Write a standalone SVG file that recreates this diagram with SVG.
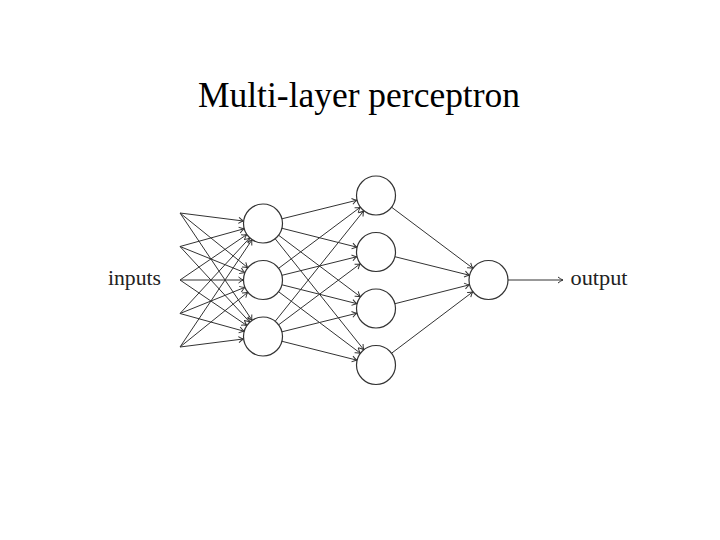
<svg xmlns="http://www.w3.org/2000/svg" width="720" height="540" viewBox="0 0 720 540">
<defs>
<style>
.title{font-family:"Liberation Serif","Times New Roman",serif;font-size:36px;fill:#000}
.lbl{font-family:"Liberation Serif","Times New Roman",serif;font-size:20px;fill:#222}
.e{stroke:#333;stroke-width:1;fill:none;marker-end:url(#arr)}
.n{fill:#fff;stroke:#333;stroke-width:1.2}
</style>
<marker id="arr" markerUnits="userSpaceOnUse" markerWidth="10" markerHeight="10" viewBox="-6 -5 7 10" refX="0" refY="0" orient="auto" overflow="visible">
<path d="M-5,-3 Q-2,-0.6 0,0 Q-2,0.6 -5,3" fill="none" stroke="#333" stroke-width="1"/>
</marker>
</defs>
<rect width="720" height="540" fill="#fff"/>
<text class="title" x="198" y="107" textLength="322" lengthAdjust="spacingAndGlyphs">Multi-layer perceptron</text>
<g id="connectors">
<line class="e" x1="180" y1="213" x2="243.65" y2="221.05"/>
<line class="e" x1="180" y1="246.5" x2="244.21" y2="228.71"/>
<line class="e" x1="180" y1="280" x2="246.88" y2="234.47"/>
<line class="e" x1="180" y1="313.5" x2="249.78" y2="237.83"/>
<line class="e" x1="180" y1="347" x2="252.12" y2="239.68"/>
<line class="e" x1="180" y1="213" x2="247.83" y2="267.75"/>
<line class="e" x1="180" y1="246.5" x2="244.92" y2="272.70"/>
<line class="e" x1="180" y1="280" x2="243.5" y2="280"/>
<line class="e" x1="180" y1="313.5" x2="244.92" y2="287.30"/>
<line class="e" x1="180" y1="347" x2="247.83" y2="292.25"/>
<line class="e" x1="180" y1="213" x2="252.12" y2="320.32"/>
<line class="e" x1="180" y1="246.5" x2="249.78" y2="322.17"/>
<line class="e" x1="180" y1="280" x2="246.88" y2="325.53"/>
<line class="e" x1="180" y1="313.5" x2="244.21" y2="331.29"/>
<line class="e" x1="180" y1="347" x2="243.65" y2="338.95"/>
<line class="e" x1="281.93" y1="218.81" x2="357.07" y2="200.19"/>
<line class="e" x1="281.91" y1="228.27" x2="357.09" y2="247.23"/>
<line class="e" x1="278.58" y1="235.22" x2="360.42" y2="296.78"/>
<line class="e" x1="275.17" y1="238.74" x2="363.83" y2="349.76"/>
<line class="e" x1="278.62" y1="268.32" x2="360.38" y2="207.18"/>
<line class="e" x1="281.93" y1="275.31" x2="357.07" y2="256.69"/>
<line class="e" x1="281.91" y1="284.77" x2="357.09" y2="303.73"/>
<line class="e" x1="278.58" y1="291.72" x2="360.42" y2="353.28"/>
<line class="e" x1="275.20" y1="321.28" x2="363.80" y2="210.72"/>
<line class="e" x1="278.62" y1="324.82" x2="360.38" y2="263.68"/>
<line class="e" x1="281.93" y1="331.81" x2="357.07" y2="313.19"/>
<line class="e" x1="281.91" y1="341.27" x2="357.09" y2="360.23"/>
<line class="e" x1="391.59" y1="207.21" x2="472.91" y2="268.29"/>
<line class="e" x1="394.92" y1="256.71" x2="469.58" y2="275.29"/>
<line class="e" x1="394.90" y1="303.71" x2="469.60" y2="284.79"/>
<line class="e" x1="391.56" y1="353.24" x2="472.94" y2="291.76"/>
<line class="e" x1="508" y1="280" x2="563" y2="280"/>
</g>
<g id="inputs"><text class="lbl" x="108" y="284.5" textLength="53" lengthAdjust="spacingAndGlyphs">inputs</text></g>
<g id="h1a"><circle class="n" cx="263" cy="223.5" r="19.5"/></g>
<g id="h1b"><circle class="n" cx="263" cy="280" r="19.5"/></g>
<g id="h1c"><circle class="n" cx="263" cy="336.5" r="19.5"/></g>
<g id="h2a"><circle class="n" cx="376" cy="195.5" r="19.5"/></g>
<g id="h2b"><circle class="n" cx="376" cy="252" r="19.5"/></g>
<g id="h2c"><circle class="n" cx="376" cy="308.5" r="19.5"/></g>
<g id="h2d"><circle class="n" cx="376" cy="365" r="19.5"/></g>
<g id="out"><circle class="n" cx="488.5" cy="280" r="19.5"/></g>
<g id="output"><text class="lbl" x="570.5" y="284.5" textLength="57" lengthAdjust="spacingAndGlyphs">output</text></g>
</svg>
